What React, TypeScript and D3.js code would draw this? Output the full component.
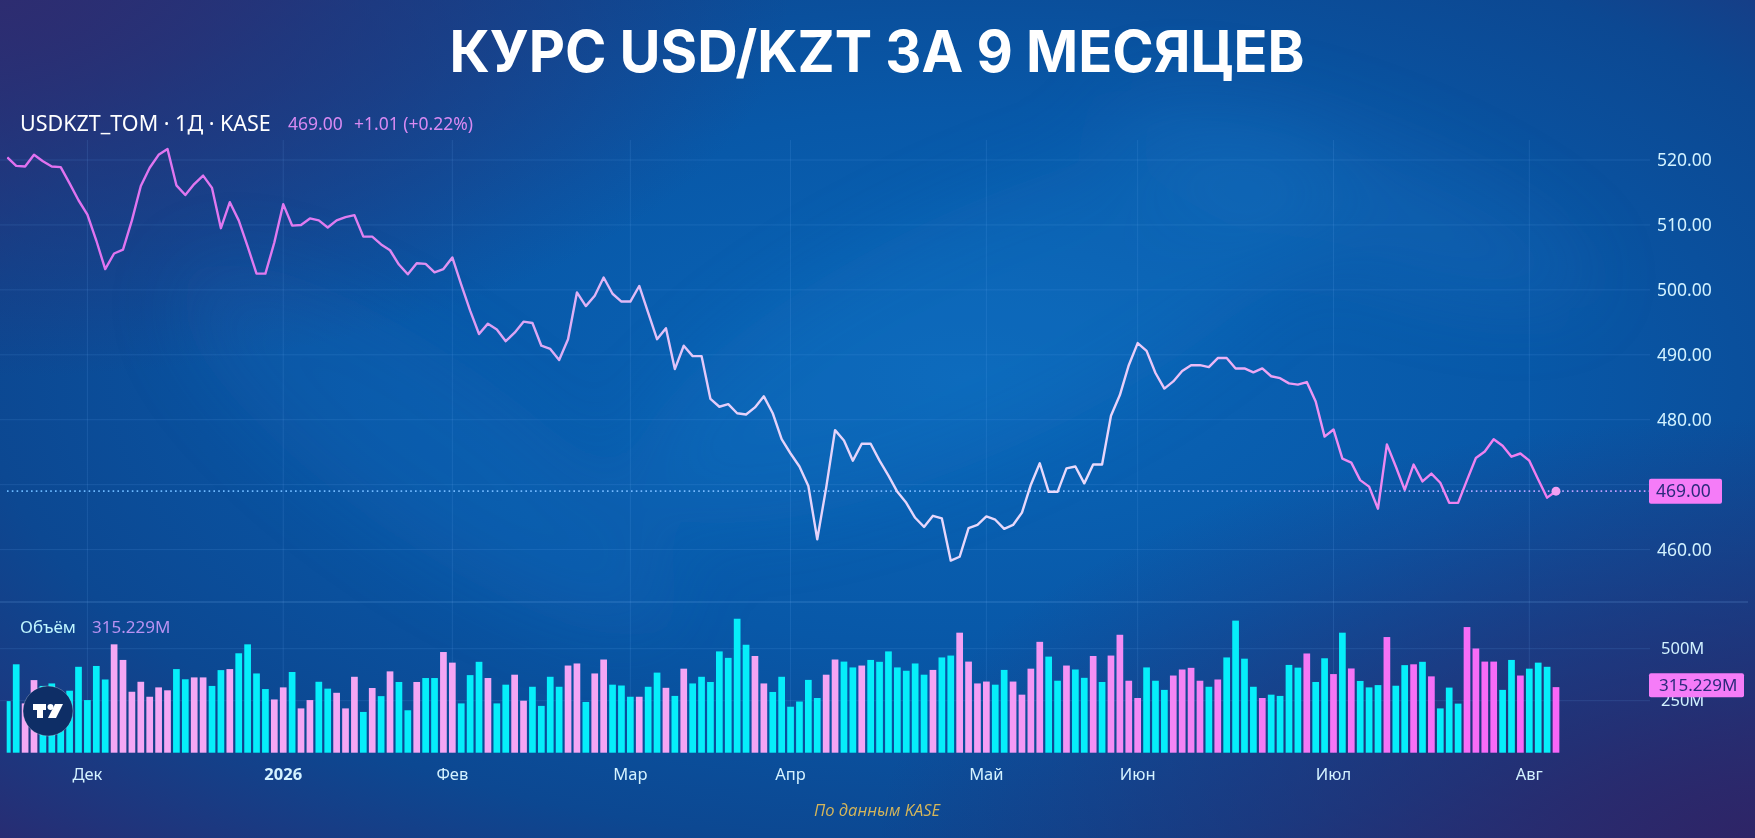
import React from 'react';
import * as d3 from 'd3';

// daily closes USDKZT_TOM (oldest first)
const closes: number[] = [
  520.4, 519.1, 519.0, 520.8, 519.8, 519.0, 518.9, 516.4, 513.8, 511.6,
  507.6, 503.2, 505.6, 506.2, 510.7, 516.0, 518.8, 520.8, 521.7, 516.1,
  514.6, 516.3, 517.6, 515.7, 509.5, 513.5, 510.7, 506.7, 502.5, 502.5,
  507.3, 513.2, 509.9, 510.0, 511.0, 510.7, 509.6, 510.7, 511.2, 511.5,
  508.2, 508.2, 507.0, 506.1, 503.9, 502.4, 504.1, 504.0, 502.7, 503.2,
  505.0, 500.8, 496.8, 493.2, 494.8, 493.9, 492.1, 493.4, 495.1, 494.9,
  491.4, 490.9, 489.2, 492.4, 499.6, 497.5, 499.1, 501.9, 499.4, 498.2,
  498.2, 500.6, 496.5, 492.4, 494.1, 487.8, 491.4, 489.8, 489.8, 483.2,
  482.0, 482.4, 481.0, 480.8, 481.9, 483.6, 481.0, 477.0, 474.8, 472.8,
  469.8, 461.6, 469.5, 478.4, 476.8, 473.7, 476.3, 476.3, 473.7, 471.4,
  468.9, 467.2, 464.9, 463.5, 465.2, 464.8, 458.3, 458.9, 463.3, 463.8,
  465.1, 464.6, 463.2, 463.8, 465.7, 470.0, 473.3, 468.9, 468.9, 472.5,
  472.8, 470.2, 473.1, 473.1, 480.6, 483.8, 488.4, 491.8, 490.6, 487.2,
  484.8, 485.9, 487.5, 488.4, 488.4, 488.1, 489.5, 489.5, 487.9, 487.9,
  487.3, 487.9, 486.7, 486.4, 485.6, 485.4, 485.8, 482.8, 477.4, 478.5,
  474.0, 473.4, 470.7, 469.7, 466.3, 476.2, 472.8, 469.2, 473.1, 470.5,
  471.7, 470.3, 467.2, 467.2, 470.7, 474.1, 475.1, 477.0, 476.0, 474.3,
  474.8, 473.7, 470.8, 468.0, 469.0,
];

// daily volume, millions
const volumes: number[] = [
  248, 425, 237, 349, 321, 333, 253, 298, 413, 253,
  417, 352, 521, 446, 293, 341, 269, 314, 300, 402,
  353, 362, 362, 321, 397, 402, 478, 521, 381, 306,
  256, 314, 388, 213, 253, 341, 308, 288, 213, 365,
  196, 311, 272, 391, 340, 204, 340, 359, 359, 484,
  433, 237, 373, 437, 359, 237, 327, 375, 250, 317,
  225, 365, 317, 419, 429, 244, 381, 448, 327, 323,
  269, 269, 317, 385, 312, 273, 404, 333, 365, 340,
  487, 456, 644, 519, 465, 333, 292, 365, 221, 246,
  350, 263, 375, 448, 438, 410, 419, 446, 437, 487,
  410, 394, 429, 375, 398, 458, 467, 577, 438, 333,
  342, 327, 398, 342, 279, 404, 533, 462, 346, 419,
  400, 360, 465, 340, 467, 567, 346, 263, 410, 346,
  302, 371, 400, 408, 346, 317, 352, 458, 635, 452,
  317, 263, 279, 273, 422, 409, 477, 340, 454, 378,
  577, 405, 345, 314, 325, 556, 322, 421, 425, 437,
  367, 213, 313, 236, 604, 501, 438, 438, 302, 446,
  371, 404, 433, 413, 315.229,
];

// bar colour per day: c = up (cyan), p = down (pink)
const volumeSide: string[] = (
  'ccppcccccc' + 'ccpppppppc' + 'cppccpcccc' + 'ppcppccppp' + 'cpcpccpccp' +
  'pcccpccppc' + 'cccppcppcc' + 'cpccpcpccc' + 'ccccppcccc' + 'ccppccpccc' +
  'ccccpccppp' + 'pccppppccp' + 'ccpcppppcc' + 'cppppcpccc' + 'cpccccpccp' +
  'cpcccpccpc' + 'pcccppppcc' + 'pcccp'
).split('');

const monthTicks = [
  { label: 'Дек', index: 9, bold: false },
  { label: '2026', index: 31, bold: true },
  { label: 'Фев', index: 50, bold: false },
  { label: 'Мар', index: 70, bold: false },
  { label: 'Апр', index: 88, bold: false },
  { label: 'Май', index: 110, bold: false },
  { label: 'Июн', index: 127, bold: false },
  { label: 'Июл', index: 149, bold: false },
  { label: 'Авг', index: 171, bold: false },
];

const priceTicks = [460, 470, 480, 490, 500, 510, 520];
const volumeTicks = [250, 500];

const lastPrice = 469.0;
const lastVolume = 315.229;

const W = 1755;
const H = 838;
const UI_FONT = '"Noto Sans", "DejaVu Sans", sans-serif';

export default function App() {
  const x = d3.scaleLinear().domain([0, closes.length - 1]).range([7.3, 1556]);
  const yPrice = d3.scaleLinear().domain([460, 520]).range([549.6, 160]);
  const yVol = d3.scaleLinear().domain([0, 500]).range([752.7, 648.7]);

  const plotRight = 1650;
  const barW = 6.7;

  const line = d3.line<number>()
    .x((_, i) => x(i))
    .y(d => yPrice(d));

  const gridColor = 'rgba(120, 185, 255, 0.14)';
  const lastX = x(closes.length - 1);
  // price labels hidden under the last-price tag, as the terminal does
  const priceLabels = priceTicks.filter(t => Math.abs(yPrice(t) - yPrice(lastPrice)) > 16);

  return (
    <div style={{ position: 'absolute', left: 0, top: 0 }}>
      <svg width={W} height={H} style={{ display: 'block' }}>
        <defs>
          <radialGradient id="bg" cx="0.55" cy="0.45" r="0.8">
            <stop offset="0" stopColor="#0a66b8" />
            <stop offset="0.4" stopColor="#0858a8" />
            <stop offset="0.7" stopColor="#0c4892" />
            <stop offset="1" stopColor="#2a2a70" />
          </radialGradient>
          <radialGradient id="cornerTL" cx="0" cy="0" r="0.45">
            <stop offset="0" stopColor="#2e2c70" stopOpacity="0.95" />
            <stop offset="1" stopColor="#2e2c70" stopOpacity="0" />
          </radialGradient>
          <radialGradient id="cornerBR" cx="1" cy="1" r="0.5">
            <stop offset="0" stopColor="#2f2466" stopOpacity="0.95" />
            <stop offset="1" stopColor="#2f2466" stopOpacity="0" />
          </radialGradient>
          <filter id="soft" x="-50%" y="-50%" width="200%" height="200%">
            <feGaussianBlur stdDeviation="40" />
          </filter>
          <linearGradient id="lineGrad" gradientUnits="userSpaceOnUse" x1="0" y1="0" x2="1556" y2="0">
            <stop offset="0" stopColor="#e070f0" />
            <stop offset="0.22" stopColor="#e07cf0" />
            <stop offset="0.33" stopColor="#dca4f4" />
            <stop offset="0.48" stopColor="#e4d2fb" />
            <stop offset="0.7" stopColor="#e8dafc" />
            <stop offset="0.78" stopColor="#ecb6f6" />
            <stop offset="0.86" stopColor="#ec8cf2" />
            <stop offset="1" stopColor="#f07cf0" />
          </linearGradient>
          <linearGradient id="pinkGrad" gradientUnits="userSpaceOnUse" x1="0" y1="0" x2="1556" y2="0">
            <stop offset="0" stopColor="#f4a8f4" />
            <stop offset="0.6" stopColor="#f4a4f4" />
            <stop offset="0.8" stopColor="#f47cf4" />
            <stop offset="1" stopColor="#f866f8" />
          </linearGradient>
          <linearGradient id="dotGrad" gradientUnits="userSpaceOnUse" x1="0" y1="0" x2="1650" y2="0">
            <stop offset="0" stopColor="#6ab8ff" />
            <stop offset="0.7" stopColor="#7ab8ff" />
            <stop offset="1" stopColor="#c89cff" />
          </linearGradient>
          <clipPath id="plotClip">
            <rect x={6.7} y={0} width={plotRight - 6.7} height={760} />
          </clipPath>
        </defs>

        {/* background */}
        <rect width={W} height={H} fill="url(#bg)" />
        <rect width={W} height={H} fill="url(#cornerTL)" />
        <rect width={W} height={H} fill="url(#cornerBR)" />
        <g filter="url(#soft)" opacity={0.5}>
          <ellipse cx={980} cy={330} rx={380} ry={120} fill="#1a86d8" opacity={0.35} transform="rotate(-25 980 330)" />
          <ellipse cx={430} cy={450} rx={300} ry={90} fill="#1a7acc" opacity={0.3} transform="rotate(35 430 450)" />
          <ellipse cx={1350} cy={200} rx={260} ry={70} fill="#2a8ad8" opacity={0.25} transform="rotate(20 1350 200)" />
        </g>

        {/* title */}
        <text
          x={877}
          y={72}
          textAnchor="middle"
          fill="#ffffff"
          fontFamily='Inter, "Open Sans", sans-serif'
          fontWeight={700}
          fontSize={58}
          textLength={855}
          lengthAdjust="spacingAndGlyphs"
        >
          КУРС USD/KZT ЗА 9 МЕСЯЦЕВ
        </text>

        {/* grid */}
        <g stroke={gridColor} strokeWidth={1}>
          {priceTicks.map(t => (
            <line key={`pg${t}`} x1={0} x2={plotRight} y1={yPrice(t)} y2={yPrice(t)} />
          ))}
          {volumeTicks.map(t => (
            <line key={`vg${t}`} x1={0} x2={plotRight} y1={yVol(t)} y2={yVol(t)} />
          ))}
          {monthTicks.map(m => (
            <line key={`mg${m.label}`} x1={x(m.index)} x2={x(m.index)} y1={140} y2={753} />
          ))}
        </g>
        <line x1={0} x2={1748} y1={602} y2={602} stroke="rgba(140, 195, 255, 0.28)" strokeWidth={1} />

        {/* volume bars */}
        <g clipPath="url(#plotClip)">
          {volumes.map((v, i) => (
            <rect
              key={`v${i}`}
              x={x(i) - barW / 2}
              y={yVol(v)}
              width={barW}
              height={yVol(0) - yVol(v)}
              fill={volumeSide[i] === 'c' ? '#06eefa' : 'url(#pinkGrad)'}
            />
          ))}
        </g>

        {/* last price dotted line */}
        <line
          x1={7}
          x2={1649}
          y1={yPrice(lastPrice)}
          y2={yPrice(lastPrice)}
          stroke="url(#dotGrad)"
          strokeWidth={1.6}
          strokeDasharray="1.6 3.2"
        />

        {/* price line */}
        <g clipPath="url(#plotClip)">
          <path
            d={line(closes) || ''}
            fill="none"
            stroke="url(#lineGrad)"
            strokeWidth={2.4}
            strokeLinejoin="round"
          />
        </g>
        <circle cx={lastX} cy={yPrice(closes[closes.length - 1])} r={4.5} fill="#f2a0f2" />

        {/* price axis */}
        <g fontFamily={UI_FONT} fontSize={17.5} fill="#d2f2ff">
          {priceLabels.map(t => (
            <text key={`pt${t}`} x={1657} y={yPrice(t)} dy="0.35em">{t.toFixed(2)}</text>
          ))}
        </g>
        <g fontFamily={UI_FONT} fontSize={16.5} fill="#d2f2ff">
          {volumeTicks.map(t => (
            <text key={`vt${t}`} x={1661} y={yVol(t)} dy="0.35em">{`${t}M`}</text>
          ))}
        </g>

        {/* last value tags */}
        <rect x={1649} y={yPrice(lastPrice) - 12.5} width={73} height={25} rx={2} fill="#f57cf8" />
        <text x={1656} y={yPrice(lastPrice)} dy="0.36em" fontFamily={UI_FONT} fontSize={17.5} fill="#2c2a7c">
          {lastPrice.toFixed(2)}
        </text>
        <rect x={1649} y={yVol(lastVolume) - 14} width={95} height={24} rx={2} fill="#f57cf8" />
        <text x={1659} y={yVol(lastVolume) - 2} dy="0.36em" fontFamily={UI_FONT} fontSize={17} fill="#2c2a7c">
          {`${lastVolume.toFixed(3)}M`}
        </text>

        {/* legends */}
        <text x={20} y={131} fontFamily={UI_FONT} fontSize={21.5} fill="#ffffff">
          USDKZT_TOM · 1Д · KASE
        </text>
        <text fontFamily={UI_FONT} fontSize={17.5} fill="#d88af2" y={130}>
          <tspan x={288}>{lastPrice.toFixed(2)}</tspan>
          <tspan x={354}>+1.01 (+0.22%)</tspan>
        </text>
        <text x={20} y={633} fontFamily={UI_FONT} fontSize={17} fill="#bff6ff">Объём</text>
        <text x={92} y={633} fontFamily={UI_FONT} fontSize={17} fill="#b892f2">
          {`${lastVolume.toFixed(3)}M`}
        </text>

        {/* time axis */}
        <g fontFamily={UI_FONT} fontSize={16.5} fill="#d4f2ff" textAnchor="middle">
          {monthTicks.map(m => (
            <text key={`mt${m.label}`} x={x(m.index)} y={780} fontWeight={m.bold ? 700 : 400}>
              {m.label}
            </text>
          ))}
        </g>

        {/* tradingview badge */}
        <g transform="translate(48,711)">
          <circle r={25} fill="#0e2e66" stroke="rgba(255,255,255,0.25)" strokeWidth={1} />
          <path d="M-15,-7 H-2 V-1 H-5 V7 H-11 V-1 H-15 Z" fill="#ffffff" />
          <circle cx={2.5} cy={-4} r={3} fill="#ffffff" />
          <path d="M7,-7 H15 L8,7 H0 Z" fill="#ffffff" />
        </g>

        {/* source */}
        <text
          x={877}
          y={816}
          textAnchor="middle"
          fontFamily='"Open Sans", sans-serif'
          fontStyle="italic"
          fontSize={16.5}
          fill="#d6b65a"
        >
          По данным KASE
        </text>
      </svg>
    </div>
  );
}
